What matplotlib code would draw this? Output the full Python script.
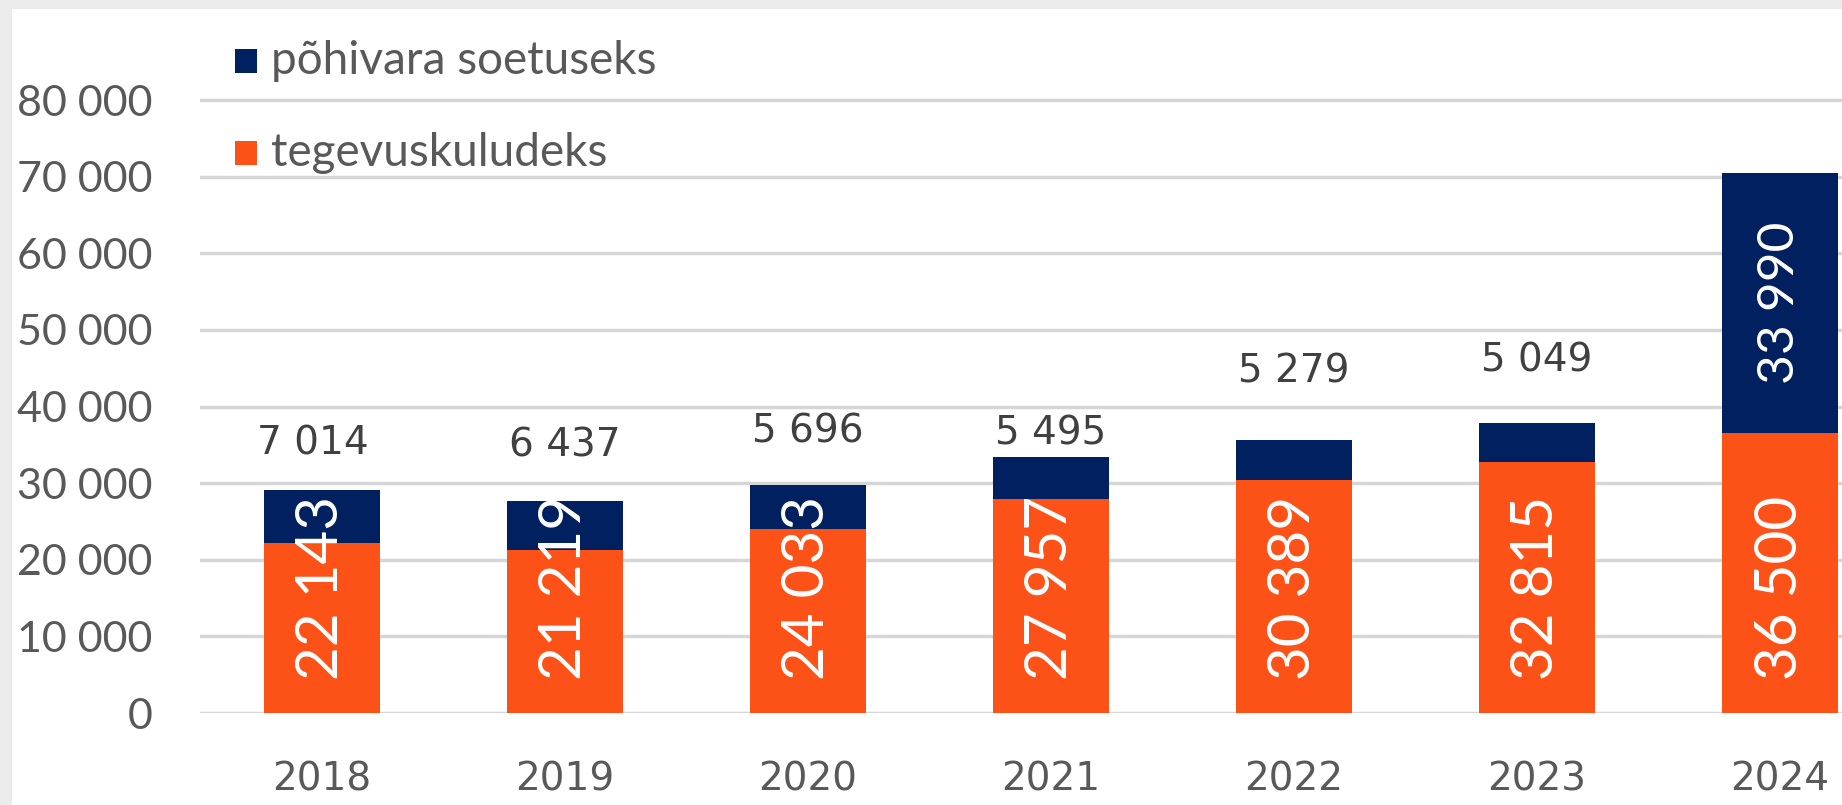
import matplotlib
matplotlib.use("Agg")
import matplotlib.pyplot as plt
from matplotlib.patches import Rectangle
from matplotlib.ticker import FuncFormatter

years = ["2018", "2019", "2020", "2021", "2022", "2023", "2024"]
tegevuskulud = [22143, 21219, 24033, 27957, 30389, 32815, 36500]
pohivara = [7014, 6437, 5696, 5495, 5279, 5049, 33990]
series_names = ["põhivara soetuseks", "tegevuskuludeks"]

ORANGE = "#FC5217"
NAVY = "#002060"
GRID = "#D6D6D6"
TICK = "#595959"
LABEL = "#404040"

# per-bar offsets (points) of the top labels above the bar top (layout only)
top_offsets = [33, 40, 39, 17, 49, 45]
top_xshift = [-6, 0, 0, 0, 0, 0]

W, H = 1842, 805
fig = plt.figure(figsize=(W / 100, H / 100), dpi=100, facecolor="#EBEBEB")
# white panel
fig.patches.append(Rectangle((12 / W, 0), 1 - 12 / W, 1 - 9 / H, transform=fig.transFigure,
                             facecolor="white", edgecolor="none", zorder=-10))

ymax = 81000
ax_bottom = 1 - 713 / H
ax_h = (713 - 100) / H * ymax / 80000
ax = fig.add_axes([200 / W, ax_bottom, 1 - 200 / W, ax_h])
ax.set_zorder(2)
ax.set_facecolor("none")
ax.set_xlim(-0.5, 6.255)
ax.set_ylim(0, ymax)

x = list(range(len(years)))
bw = 0.477
ax.bar(x, tegevuskulud, width=bw, color=ORANGE, zorder=3)
ax.bar(x, pohivara, width=bw, bottom=tegevuskulud, color=NAVY, zorder=3)

ax.set_yticks(range(0, 80001, 10000))
ax.yaxis.set_major_formatter(FuncFormatter(lambda v, p: f"{int(v):,}".replace(",", " ")))
ax.grid(axis="y", color=GRID, linewidth=2.5, zorder=1)
ax.set_axisbelow(True)
for s in ax.spines.values():
    s.set_visible(False)
ax.tick_params(axis="y", length=0, pad=34, labelsize=31, labelcolor=TICK)
ax.set_xticks(x)
ax.set_xticklabels(years)
ax.tick_params(axis="x", length=0, pad=34, labelsize=28, labelcolor=TICK)
for t in ax.get_yticklabels():
    t.set_fontfamily("Lato")
for t in ax.get_xticklabels():
    t.set_fontfamily("DejaVu Sans")

def fmt(v):
    return f"{v:,}".replace(",", " ")

for i in x:
    # orange labels: rotated, starting near the base
    ax.annotate(fmt(tegevuskulud[i]), xy=(i, 0), xytext=(0, 24), textcoords="offset points",
                rotation=90, rotation_mode="anchor", ha="left", va="center",
                color="white", fontsize=42, fontfamily="Lato", zorder=5)
    total = tegevuskulud[i] + pohivara[i]
    if i < 6:
        ax.annotate(fmt(pohivara[i]), xy=(i, total), xytext=(top_xshift[i], top_offsets[i]),
                    textcoords="offset points", ha="center", va="center",
                    color=LABEL, fontsize=28, fontfamily="DejaVu Sans", zorder=5)
    else:
        ax.text(i, tegevuskulud[i] + pohivara[i] / 2, fmt(pohivara[i]), rotation=90,
                rotation_mode="anchor", ha="center", va="center",
                color="white", fontsize=37, fontfamily="Lato", zorder=5)

# legend (manual)
leg_colors = [NAVY, ORANGE]
leg_y = [61, 153]
for name, c, yc in zip(series_names, leg_colors, leg_y):
    fig.patches.append(Rectangle((235 / W, 1 - (yc + 12) / H), 22 / W, 24 / H,
                                 transform=fig.transFigure, facecolor=c, edgecolor="none"))
    fig.text(271 / W, 1 - yc / H, name, ha="left", va="center", fontsize=33,
             fontfamily="Lato", color=TICK)

fig.savefig("out.png", dpi=100, facecolor=fig.get_facecolor())
